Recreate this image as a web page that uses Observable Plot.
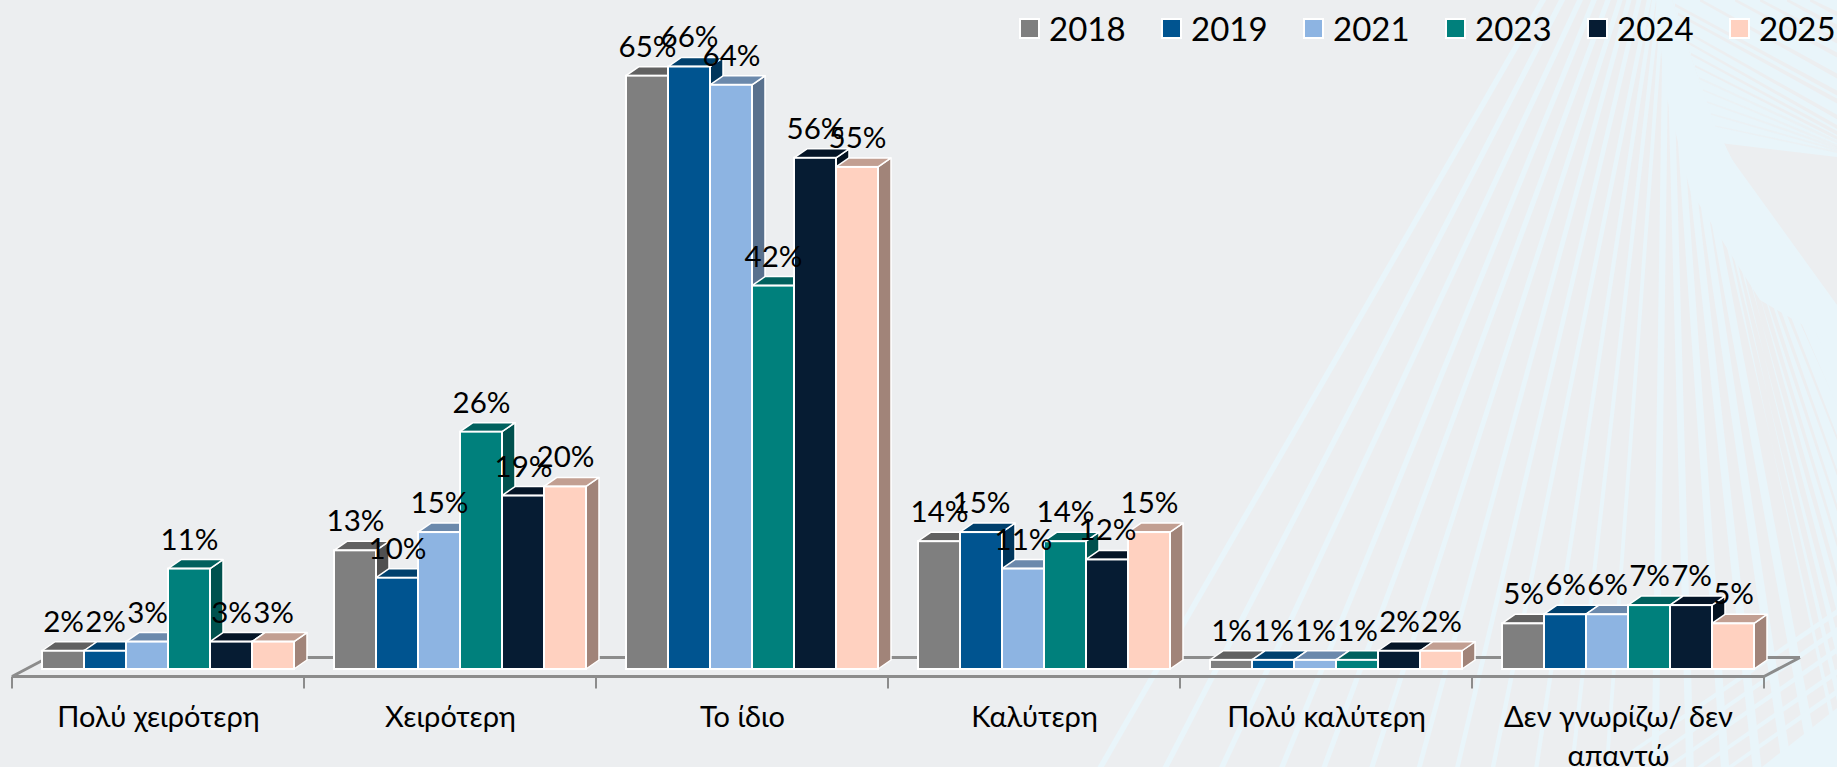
<!DOCTYPE html>
<html lang="el">
<head>
<meta charset="utf-8">
<script src="https://cdn.jsdelivr.net/npm/d3@7"></script>
<script src="https://cdn.jsdelivr.net/npm/@observablehq/plot@0.6"></script>
<style>
html,body{margin:0;padding:0;background:#ECEEF0;width:1837px;height:767px;overflow:hidden}
#bg,#chart{position:absolute;left:0;top:0}
#chart svg{background:transparent;display:block}
#legend{position:absolute;left:1019px;top:7px;display:flex;font-family:Lato,"Open Sans",sans-serif;font-size:33px;color:#000}
#legend .item{width:142px;display:flex;align-items:center;height:42px}
#legend .sw{width:17px;height:17px;border:2px solid #fff;margin-right:9px}
</style>
</head>
<body>
<svg id="bg" width="1837" height="767" xmlns="http://www.w3.org/2000/svg"></svg>
<div id="chart"></div>
<div id="legend"></div>
<script>
const categories = ["Πολύ χειρότερη", "Χειρότερη", "Το ίδιο", "Καλύτερη", "Πολύ καλύτερη", "Δεν γνωρίζω/ δεν\nαπαντώ"];
const years = ["2018", "2019", "2021", "2023", "2024", "2025"];
const colors = ["#7F7F7F", "#005490", "#8DB4E2", "#00807C", "#061C33", "#FFD1C0"];
const v2018 = [2, 13, 65, 14, 1, 5];
const v2019 = [2, 10, 66, 15, 1, 6];
const v2021 = [3, 15, 64, 11, 1, 6];
const v2023 = [11, 26, 42, 14, 1, 7];
const v2024 = [3, 19, 56, 12, 2, 7];
const v2025 = [3, 20, 55, 15, 2, 5];
const series = [v2018, v2019, v2021, v2023, v2024, v2025];
const rows = categories.flatMap((category, c) => years.map((year, s) => ({category, year, value: series[s][c]})));

const NS = "http://www.w3.org/2000/svg";
const shade = (hex, k) => { const c = d3.rgb(hex); return d3.rgb(c.r * k, c.g * k, c.b * k).formatHex(); };
const colorOf = new Map(years.map((y, i) => [y, colors[i]]));

function poly(points, fill) {
  const p = document.createElementNS(NS, "polygon");
  p.setAttribute("points", points.map(q => q.join(",")).join(" "));
  p.setAttribute("fill", fill);
  p.setAttribute("stroke", "#fff");
  p.setAttribute("stroke-width", 1.5);
  p.setAttribute("stroke-linejoin", "round");
  return p;
}
const depthX = 13, depthY = 9;

function render3D(index, scales, values, dimensions, context, next) {
  const g = next(index, scales, values, dimensions, context);
  const idx = Array.from(index);
  g.querySelectorAll("rect").forEach((r, k) => {
    const x = +r.getAttribute("x"), y = +r.getAttribute("y");
    const w = +r.getAttribute("width"), h = +r.getAttribute("height");
    const base = colorOf.get(rows[idx[k]].year);
    const side = poly([[x + w, y], [x + w + depthX, y - depthY], [x + w + depthX, y + h - depthY], [x + w, y + h]], shade(base, 0.63));
    const top = poly([[x, y], [x + depthX, y - depthY], [x + w + depthX, y - depthY], [x + w, y]], shade(base, 0.76));
    r.parentNode.insertBefore(side, r);
    r.parentNode.insertBefore(top, r);
  });
  return g;
}

function renderFloor(index, scales, values, dimensions, context, next) {
  const g = next(index, scales, values, dimensions, context);
  const line = g.querySelector("line");
  const i = Array.from(index)[0];
  const x1 = +line.getAttribute("x1"), x2 = +line.getAttribute("x2"), y = +line.getAttribute("y1");
  const add = (a, b, c, d, w) => {
    const l = document.createElementNS(NS, "line");
    l.setAttribute("x1", a); l.setAttribute("y1", b);
    l.setAttribute("x2", c); l.setAttribute("y2", d);
    l.setAttribute("stroke", "#8C8C8C"); l.setAttribute("stroke-width", w);
    line.parentNode.appendChild(l);
  };
  add(x1, y, x1, y + 12, 2);
  if (i === 0) add(x1, y, x1 + 36, y - 19, 3);
  if (i === categories.length - 1) {
    add(x2, y, x2, y + 12, 2);
    add(x2, y, x2 + 36, y - 19, 3);
  }
  return g;
}

const plot = Plot.plot({
  width: 1837,
  height: 767,
  marginLeft: 12,
  marginRight: 73,
  marginTop: 30,
  marginBottom: 98,
  style: {background: "transparent", fontFamily: 'Lato, "Open Sans", sans-serif', overflow: "visible"},
  fx: {domain: categories, padding: 0, label: null},
  x: {domain: years, padding: 0, insetLeft: 28.2, insetRight: 7.5, axis: null, label: null},
  y: {domain: [0, 70], axis: null, label: null},
  color: {domain: years, range: colors},
  marks: [
    Plot.ruleY(categories, {fx: d => d, y: () => 0, dy: -12, dx: 36, stroke: "#8C8C8C", strokeWidth: 3}),
    Plot.ruleY(categories, {fx: d => d, y: () => 0, dy: 7, stroke: "#8C8C8C", strokeWidth: 3, render: renderFloor}),
    Plot.barY(rows, {fx: "category", x: "year", y1: 0, y2: "value", fill: "year", stroke: "#fff", strokeWidth: 2, render: render3D}),
    Plot.text(rows, {fx: "category", x: "year", y: "value", text: d => `${d.value}%`, dy: -29, fontSize: 29.5, fill: "#000"}),
    Plot.axisFx({anchor: "bottom", tickSize: 0, tickPadding: 29, fontSize: 29, lineHeight: 1.36, lineWidth: 100, fill: "#000", label: null})
  ]
});
document.getElementById("chart").appendChild(plot);

// legend
const legend = d3.select("#legend");
years.forEach((y, i) => {
  const item = legend.append("div").attr("class", "item");
  item.append("div").attr("class", "sw").style("background", colors[i]);
  item.append("div").text(y);
});

// decorative page background: fans of pale rays
const bg = d3.select("#bg");
const light = "#E9F5FA";
const pts = a => a.map(p => p.join(",")).join(" ");
const raysTop = [1543,1562,1580,1594,1608,1620,1629,1639,1649,1654,1659,1663];
const rays300 = [1370,1407,1440,1472,1497,1523,1547,1568,1588,1608,1625,1641];
raysTop.forEach((t, i) => {
  const m = (rays300[i] - t) / 300;
  const w = 3.2 - i * 0.12;
  bg.append("polygon").attr("fill", light)
    .attr("points", pts([[t - w, 0], [t + w, 0], [t + w + m * 767, 767], [t - w + m * 767, 767]]));
});
// near-vertical and right-leaning rays start on the wedge edge
const raysDownEnd = [[1655,767],[1690,767],[1725,767],[1757,767],[1787,767],[1815,767],[1837,740],[1837,690],[1837,645],[1837,600],[1837,560],[1837,525],[1837,490],[1837,455],[1837,420],[1837,390],[1837,360],[1837,330]];
raysDownEnd.forEach(([c, d], i) => {
  const t = i / (raysDownEnd.length - 1);
  const a = 1666 + t * 54, b = t * 143;
  const w = 7 + i * 0.6;
  bg.append("polygon").attr("fill", light)
    .attr("points", pts(d === 767
      ? [[a - 3, b], [a + 3, b], [c + w / 2, d], [c - w / 2, d]]
      : [[a - 3, b], [a + 3, b], [c, d + w], [c, d - w]]));
});
// solid wedge under the top of the fan
bg.append("polygon").attr("fill", light).attr("points", "1656,0 1672,0 1720,143 1837,305 1837,345 1760,300 1690,190 1665,90");
// upper right fan: pale area cut by grey stripes
bg.append("polygon").attr("fill", light).attr("points", "1672,0 1837,0 1837,157 1720,143");
const stripeStartX = [1810,1787,1760,1735,1700,1675,1678,1683,1687,1691,1695,1699,1703,1707,1711,1715];
const stripeStartY = [0,0,0,0,0,5,14,30,42,54,66,78,90,102,114,126];
const stripeEndY =   [14,27,41,55,76,93,101,117,127,133,138,142,146,148,150,152];
stripeStartX.forEach((x, i) => {
  const y = stripeStartY[i], y2 = stripeEndY[i];
  const w = Math.max(0.8, 2.4 - Math.max(0, i - 6) * 0.16);
  bg.append("polygon").attr("fill", "#ECEEF0").attr("fill-opacity", i > 10 ? 0.6 : 1)
    .attr("points", pts([[x, y - w * 0.6], [x, y + w * 0.6], [1837, y2 + w], [1837, y2 - w]]));
});
// lower right fan
[[1610,767,1837,612],[1640,767,1837,630],[1668,767,1837,650],[1700,767,1837,672],[1730,767,1837,692]].forEach(([x, y, x2, y2]) => {
  bg.append("polygon").attr("fill", light)
    .attr("points", pts([[x - 3, y], [x + 3, y], [x2, y2 + 3], [x2, y2 - 3]]));
});
bg.append("polygon").attr("fill", light).attr("points", "1762,767 1837,708 1837,767");
</script>
</body>
</html>
